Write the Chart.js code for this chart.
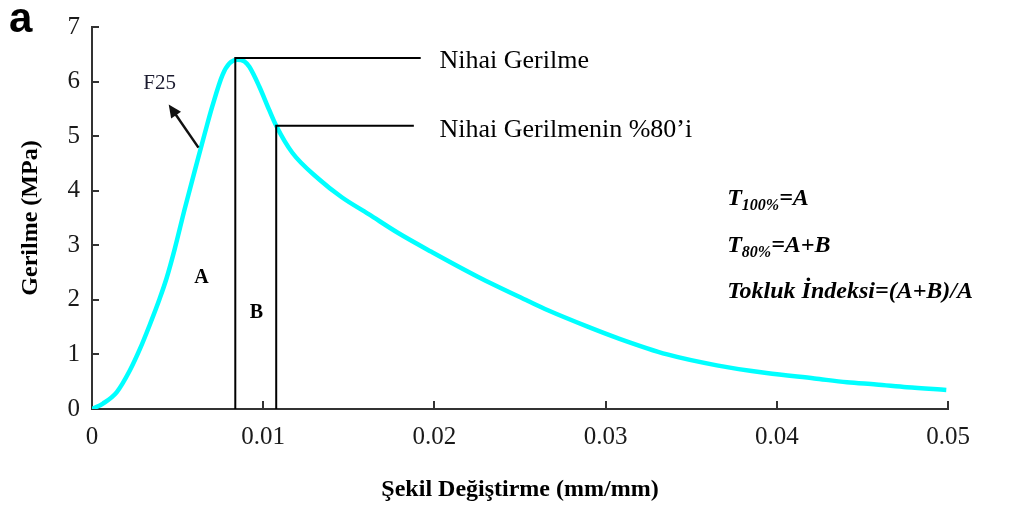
<!DOCTYPE html>
<html>
<head>
<meta charset="utf-8">
<script src="https://cdn.jsdelivr.net/npm/chart.js@4.4.1/dist/chart.umd.min.js"></script>
<style>
  html, body { margin: 0; padding: 0; background: #fff; }
  #wrap { width: 1013px; height: 510px; }
</style>
</head>
<body>
<div id="wrap"><canvas id="c" width="1013" height="510"></canvas></div>
<script>
// Stress–strain curve of specimen F25
const strain = [0, 0.00064, 0.00145, 0.0022, 0.0028, 0.00337, 0.00395, 0.00436, 0.00483, 0.00541,
  0.00616, 0.00657, 0.00703, 0.00762, 0.00802, 0.00849, 0.0089, 0.00919, 0.00977, 0.01035,
  0.01076, 0.01169, 0.01326, 0.01459, 0.01616, 0.01791, 0.01983, 0.02256, 0.02547, 0.02663,
  0.02895, 0.0307, 0.0336, 0.0365, 0.0394, 0.0422, 0.0441, 0.0458, 0.0476, 0.0499];
const stress = [0, 0.10, 0.31, 0.70, 1.10, 1.54, 2.02, 2.40, 2.93, 3.66,
  4.55, 5.03, 5.55, 6.12, 6.33, 6.40, 6.37, 6.27, 5.91, 5.48,
  5.19, 4.70, 4.21, 3.88, 3.57, 3.22, 2.88, 2.42, 1.98, 1.81,
  1.51, 1.30, 1.00, 0.80, 0.66, 0.56, 0.49, 0.45, 0.40, 0.35];

// Ultimate stress and 80 % of it, with the strains where they occur
const peakStrain = 0.00837, peakStress = 6.43;
const strain80 = 0.01076, stress80 = 5.19;
const leaderEnds = [0.0192, 0.0188];

// Axis ticks
const xTicks = [0, 0.01, 0.02, 0.03, 0.04, 0.05];
const xTickLabels = ['0', '0.01', '0.02', '0.03', '0.04', '0.05'];
const yTicks = [0, 1, 2, 3, 4, 5, 6, 7];
const yTickLabels = ['0', '1', '2', '3', '4', '5', '6', '7'];

const SERIF = '"Liberation Serif", "Times New Roman", serif';
const SANS = '"Liberation Sans", Arial, sans-serif';

const curve = strain.map((s, i) => ({ x: s, y: stress[i] }));
const peakLeader = [{ x: peakStrain, y: 0 }, { x: peakStrain, y: peakStress }, { x: leaderEnds[0], y: peakStress }];
const leader80 = [{ x: strain80, y: 0 }, { x: strain80, y: stress80 }, { x: leaderEnds[1], y: stress80 }];

// Inward tick marks, arrow and text notes
const notes = {
  id: 'notes',
  afterDatasetsDraw(chart) {
    const { ctx, scales: { x, y } } = chart;
    ctx.save();
    ctx.strokeStyle = '#333';
    ctx.lineWidth = 2;
    yTicks.forEach(v => {
      if (v === 0) return;
      const py = Math.round(y.getPixelForValue(v));
      ctx.beginPath(); ctx.moveTo(x.left, py); ctx.lineTo(x.left + 7, py); ctx.stroke();
    });
    xTicks.forEach(v => {
      if (v === 0) return;
      const px = Math.round(x.getPixelForValue(v));
      ctx.beginPath(); ctx.moveTo(px, y.bottom); ctx.lineTo(px, y.bottom - 8); ctx.stroke();
    });

    // arrow pointing from the curve to its label
    const tx = x.getPixelForValue(0.00622), ty = y.getPixelForValue(4.79);
    const hx = x.getPixelForValue(0.00448), hy = y.getPixelForValue(5.58);
    const ang = Math.atan2(hy - ty, hx - tx);
    ctx.strokeStyle = '#111';
    ctx.fillStyle = '#111';
    ctx.lineWidth = 2.5;
    ctx.beginPath();
    ctx.moveTo(tx, ty);
    ctx.lineTo(hx - 8 * Math.cos(ang), hy - 8 * Math.sin(ang));
    ctx.stroke();
    ctx.beginPath();
    ctx.moveTo(hx, hy);
    ctx.lineTo(hx - 13 * Math.cos(ang) + 6 * Math.sin(ang), hy - 13 * Math.sin(ang) - 6 * Math.cos(ang));
    ctx.lineTo(hx - 13 * Math.cos(ang) - 6 * Math.sin(ang), hy - 13 * Math.sin(ang) + 6 * Math.cos(ang));
    ctx.closePath();
    ctx.fill();

    ctx.fillStyle = '#1a1a2e';
    ctx.textAlign = 'center';
    ctx.textBaseline = 'middle';
    ctx.font = '21px ' + SERIF;
    ctx.fillText('F25', x.getPixelForValue(0.00395), y.getPixelForValue(5.97));

    ctx.fillStyle = '#000';
    ctx.font = 'bold 20px ' + SERIF;
    ctx.fillText('A', x.getPixelForValue(0.00640), y.getPixelForValue(2.41));
    ctx.fillText('B', x.getPixelForValue(0.00960), y.getPixelForValue(1.76));

    // leader texts
    ctx.textAlign = 'left';
    ctx.font = '26px ' + SERIF;
    const lx = x.getPixelForValue(0.0203);
    ctx.fillText('Nihai Gerilme', lx, y.getPixelForValue(peakStress) + 3);
    ctx.fillText('Nihai Gerilmenin %80\u2019i', lx, y.getPixelForValue(stress80) + 4);

    // toughness definitions
    ctx.textBaseline = 'alphabetic';
    const big = 'italic bold 24px ' + SERIF;
    const small = 'italic bold 16px ' + SERIF;
    const bx = x.getPixelForValue(0.0371);
    function withSub(sub, rest, by) {
      let cx = bx;
      ctx.font = big; ctx.fillText('T', cx, by); cx += ctx.measureText('T').width;
      ctx.font = small; ctx.fillText(sub, cx, by + 5); cx += ctx.measureText(sub).width;
      ctx.font = big; ctx.fillText(rest, cx, by);
    }
    withSub('100%', '=A', y.getPixelForValue(3.74));
    withSub('80%', '=A+B', y.getPixelForValue(2.87));
    ctx.font = big;
    ctx.fillText('Tokluk \u0130ndeksi=(A+B)/A', bx, y.getPixelForValue(2.03));

    // panel letter
    ctx.font = 'bold 42px ' + SANS;
    ctx.fillText('a', 9, 32);
    ctx.restore();
  }
};

new Chart(document.getElementById('c'), {
  type: 'line',
  data: {
    datasets: [
      { data: peakLeader, borderColor: '#000', borderWidth: 2, pointRadius: 0, tension: 0, order: 1 },
      { data: leader80, borderColor: '#000', borderWidth: 2, pointRadius: 0, tension: 0, order: 1 },
      { data: curve, borderColor: '#00ffff', borderWidth: 4.5, pointRadius: 0,
        cubicInterpolationMode: 'monotone', order: 2 }
    ]
  },
  options: {
    responsive: false,
    animation: false,
    events: [],
    layout: { padding: { left: 0, top: 23, right: 65, bottom: 0 } },
    plugins: { legend: { display: false }, tooltip: { enabled: false } },
    scales: {
      x: {
        type: 'linear', min: 0, max: 0.05,
        afterFit(s) { s.height = 101; },
        afterBuildTicks(s) { s.ticks = xTicks.map(v => ({ value: v })); },
        grid: { display: false, drawTicks: false },
        border: { display: true, color: '#333', width: 2 },
        ticks: {
          padding: 13, color: '#1a1a1a', maxRotation: 0, autoSkip: false,
          font: { family: SERIF, size: 25 },
          callback: (v, i) => xTickLabels[i]
        },
        title: {
          display: true, text: 'Şekil Değiştirme (mm/mm)', color: '#000',
          font: { family: SERIF, size: 24, weight: 'bold' }, padding: { top: 6, bottom: 6 }
        }
      },
      y: {
        type: 'linear', min: 0, max: 7,
        afterFit(s) { s.width = 92; },
        afterBuildTicks(s) { s.ticks = yTicks.map(v => ({ value: v })); },
        grid: { display: false, drawTicks: false },
        border: { display: true, color: '#333', width: 2 },
        ticks: {
          padding: 12, color: '#1a1a1a',
          font: { family: SERIF, size: 25 },
          callback: (v, i) => yTickLabels[i]
        },
        title: {
          display: true, text: 'Gerilme (MPa)', color: '#000',
          font: { family: SERIF, size: 24, weight: 'bold' }, padding: { top: 16, bottom: 0 }
        }
      }
    }
  },
  plugins: [notes]
});
</script>
</body>
</html>
